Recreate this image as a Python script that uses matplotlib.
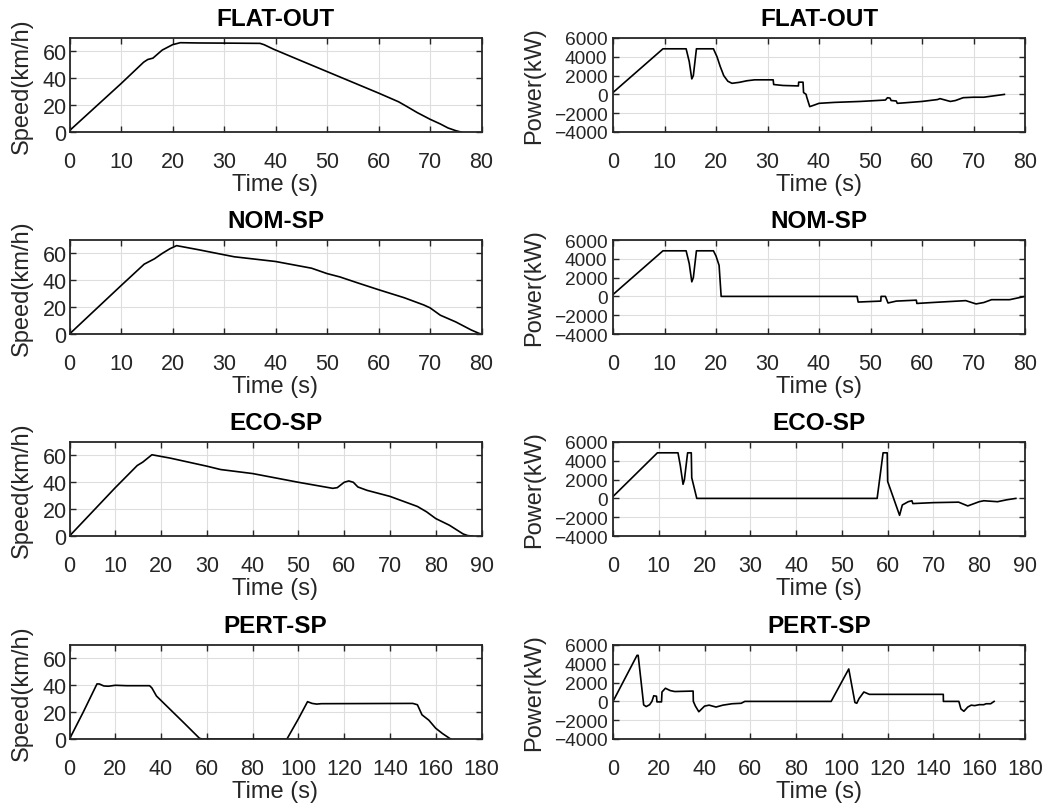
import matplotlib
matplotlib.use("Agg")
import matplotlib.pyplot as plt
import numpy as np

plt.rcParams['font.family'] = ['Liberation Sans', 'DejaVu Sans']

titles = ["FLAT-OUT", "NOM-SP", "ECO-SP", "PERT-SP"]
xlims = [80, 80, 90, 180]
xtick_steps = [10, 10, 10, 20]

# ---- FLAT-OUT ----
flat_speed_t = [0, 5, 10, 14.4, 15.2, 16.2, 18, 20, 21.5, 25, 30, 37, 37.8, 39.6, 45, 50, 55, 60, 63.9, 65.5, 67.5, 70, 72, 73.5, 75, 76]
flat_speed_v = [1, 18.5, 36, 52, 54, 55, 61, 65, 66.5, 66.3, 66.2, 66, 65, 61.7, 53, 45, 37, 29, 22.5, 19, 14.5, 9.5, 6, 3, 1, 0]
flat_power_t = [0, 9.7, 14.2, 14.8, 15.3, 15.6, 16.2, 19.5, 20.2, 20.8, 21.5, 22.3, 23.1, 24.5, 26, 27.5, 31.1, 31.2, 33, 36.0, 36.05, 36.9, 37.0, 37.5, 37.6, 38.2, 39, 40, 43, 48, 52.9, 53.3, 53.8, 54.0, 55.0, 55.2, 56.5, 60, 63, 63.5, 65.5, 66.5, 68, 70, 72, 74, 76]
flat_power_p = [200, 4850, 4850, 3500, 1650, 2000, 4850, 4850, 4000, 3000, 2000, 1400, 1180, 1280, 1450, 1550, 1550, 1050, 950, 900, 1300, 1300, 200, 0, -250, -1300, -1150, -950, -850, -750, -600, -350, -400, -650, -700, -950, -900, -750, -550, -450, -750, -650, -350, -300, -300, -150, 0]

# ---- NOM-SP ----
nom_speed_t = [0, 5, 10, 14.5, 15.5, 16.5, 18, 19.5, 20.8, 25, 30, 32, 40, 47, 50, 52.5, 56, 60, 65, 68.8, 70, 72, 75, 78, 79.5, 80]
nom_speed_v = [0, 18, 36, 52, 54, 56, 60, 63.5, 65.8, 62.8, 59, 57.5, 54, 49, 45, 42.5, 38, 33, 27, 21.6, 19.5, 14, 9, 3, 0.5, 0]
nom_power_t = [0, 9.7, 14.2, 14.8, 15.3, 15.6, 16.2, 19.5, 20.0, 20.6, 21.0, 47.4, 47.6, 52.0, 52.05, 52.9, 53.4, 55, 58.9, 59.0, 62, 68.5, 70.5, 72, 73.5, 77, 80]
nom_power_p = [200, 4850, 4850, 3500, 1550, 2000, 4850, 4850, 4300, 3300, 0, 0, -600, -500, 0, 0, -700, -500, -400, -750, -650, -450, -800, -650, -350, -350, 0]

# ---- ECO-SP ----
eco_speed_t = [0, 5, 10, 14.8, 16, 18, 22, 30, 33, 40, 50, 57.5, 58.5, 60, 61, 62, 63, 65, 70, 76, 78, 80, 83, 86, 87, 88]
eco_speed_v = [0, 18, 36, 52.5, 55, 60.5, 58, 52, 49.5, 46.5, 40, 35.5, 36, 40, 41, 40, 36.5, 34, 29.5, 22, 18, 13, 8, 1.5, 0.3, 0]
eco_power_t = [0, 9.7, 14.2, 14.7, 15.3, 15.6, 16.3, 17.1, 17.2, 18.3, 57.7, 59.0, 59.9, 60.0, 62.6, 63.2, 64.5, 65.3, 65.5, 70, 75.5, 77.5, 80, 81, 84, 86, 88]
eco_power_p = [200, 4850, 4850, 3500, 1500, 2000, 4850, 4850, 2200, 0, 0, 4850, 4850, 1800, -1800, -700, -350, -250, -550, -450, -400, -800, -350, -250, -350, -150, 0]

# ---- PERT-SP ----
pert_speed_t = [0, 6, 12, 13, 15, 17, 20, 25, 35, 36, 38, 41, 50, 56.8, 58, 95, 100, 104, 106, 108, 110, 150, 152, 154, 157, 160, 163, 166.5]
pert_speed_v = [0, 20, 41, 41, 39.5, 39.3, 40, 39.7, 39.7, 38, 32, 27, 12, 0.5, 0, 0, 15, 27.8, 26.5, 26, 26.3, 26.5, 25.5, 18, 14, 8, 4, 0]
pert_power_t = [0, 10.5, 11, 13.4, 14.5, 16, 17, 17.8, 19, 19.2, 21.2, 21.4, 22.9, 25, 27, 35.0, 35.1, 36, 37.5, 40, 42, 45, 48, 52, 56, 57.6, 95.3, 103, 105.7, 106.5, 107.5, 109.6, 112, 144.3, 144.35, 151.1, 152, 153.3, 155, 156.5, 158, 160, 162, 163, 165, 166.5]
pert_power_p = [0, 4900, 4900, -370, -550, -350, 0, 600, 550, -50, -50, 1000, 1400, 1150, 1050, 1100, 0, -500, -1100, -500, -400, -600, -400, -250, -200, 0, 0, 3450, -120, -200, 300, 1000, 750, 750, 0, 0, -800, -1050, -600, -400, -450, -350, -350, -250, -250, 0]

speed_t = [flat_speed_t, nom_speed_t, eco_speed_t, pert_speed_t]
speed_v = [flat_speed_v, nom_speed_v, eco_speed_v, pert_speed_v]
power_t = [flat_power_t, nom_power_t, eco_power_t, pert_power_t]
power_p = [flat_power_p, nom_power_p, eco_power_p, pert_power_p]

W, H = 1048, 812
fig = plt.figure(figsize=(W / 100, H / 100), dpi=100)

axis_col = '#262626'
row_tops = [39, 241, 443, 646]
ax_h = 94
ax_w = 412
col_lefts = [69.5, 613]

TICK_FS = 15.5
PWR_YTICK_FS = 13.8
LAB_FS = 17
TITLE_FS = 17.5

def style(ax, xmax, step, ylim, yticks, ypad, ytick_fs):
    ax.set_xlim(0, xmax)
    ax.set_xticks(np.arange(0, xmax + 1, step))
    ax.set_ylim(*ylim)
    ax.set_yticks(yticks)
    ax.grid(True, color='#dedede', linewidth=0.8)
    ax.set_axisbelow(True)
    for s in ax.spines.values():
        s.set_linewidth(1.3)
        s.set_color(axis_col)
    ax.tick_params(axis='both', direction='in', top=True, right=True, length=4,
                   width=1.0, color=axis_col, labelcolor=axis_col)
    ax.tick_params(axis='x', pad=13.5, labelsize=TICK_FS)
    ax.tick_params(axis='y', pad=ypad, labelsize=ytick_fs)
    ax.set_xlabel('Time (s)', fontsize=LAB_FS, color=axis_col, labelpad=1)

for i in range(4):
    bottom = 1 - (row_tops[i] + ax_h) / H
    # speed
    ax = fig.add_axes([col_lefts[0] / W, bottom, ax_w / W, ax_h / H])
    ax.plot(speed_t[i], speed_v[i], color='black', linewidth=1.2)
    style(ax, xlims[i], xtick_steps[i], (0, 70), [0, 20, 40, 60], 2, TICK_FS)
    ax.set_ylabel('Speed(km/h)', fontsize=LAB_FS, color=axis_col)
    ax.yaxis.set_label_coords(-0.088, 0.5)
    ax.set_title(titles[i], fontsize=TITLE_FS, fontweight='bold', pad=9)
    # power
    ax2 = fig.add_axes([col_lefts[1] / W, bottom, ax_w / W, ax_h / H])
    ax2.plot(power_t[i], power_p[i], color='black', linewidth=1.2)
    style(ax2, xlims[i], xtick_steps[i], (-4000, 6000), [-4000, -2000, 0, 2000, 4000, 6000], 4, PWR_YTICK_FS)
    ax2.set_ylabel('Power(kW)', fontsize=LAB_FS, color=axis_col)
    ax2.yaxis.set_label_coords(-0.165, 0.5)
    ax2.set_title(titles[i], fontsize=TITLE_FS, fontweight='bold', pad=9)

fig.savefig('out.png', dpi=100)
